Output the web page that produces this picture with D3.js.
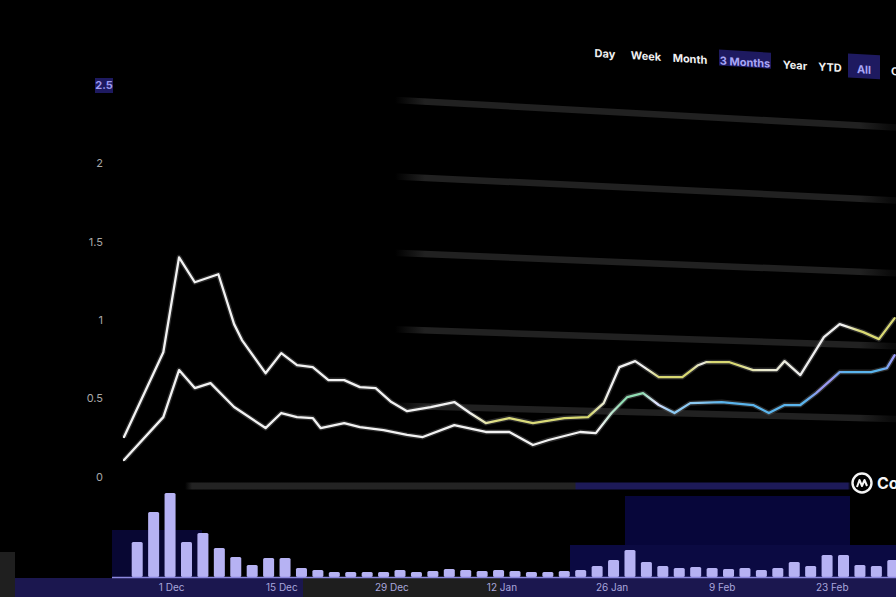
<!DOCTYPE html>
<html><head><meta charset="utf-8">
<script src="https://cdn.jsdelivr.net/npm/d3@7"></script>
<style>
html,body{margin:0;padding:0;background:#000;}
svg{display:block;font-family:Inter,"Noto Sans",sans-serif;}
</style></head>
<body>
<svg id="chart" width="896" height="597"></svg>
<script>
// ---- data ----
const startDate = "2023-11-25";
const upperDays = [0,5,7,9,12,14,15,18,20,22,24,26,28,30,32,34,36,39,42,44,46,49,52,56,59,61,63,65,68,71,73,74,77,80,83,84,86,89,91,94,96,98];
const upperValues = [0.255,0.796,1.401,1.242,1.293,0.975,0.873,0.662,0.790,0.713,0.701,0.618,0.618,0.573,0.567,0.478,0.420,0.446,0.478,0.408,0.344,0.376,0.344,0.376,0.382,0.471,0.701,0.739,0.637,0.637,0.713,0.732,0.732,0.682,0.682,0.739,0.650,0.892,0.975,0.924,0.879,1.013];
const lowerDays = [0,5,7,9,11,14,18,20,22,24,25,28,30,33,36,38,42,46,49,52,54,58,60,62,64,66,68,70,72,76,80,82,84,86,88,91,95,97,98];
const lowerValues = [0.108,0.382,0.682,0.567,0.599,0.446,0.312,0.408,0.382,0.376,0.312,0.344,0.318,0.299,0.268,0.255,0.331,0.287,0.287,0.204,0.236,0.287,0.280,0.408,0.510,0.535,0.459,0.408,0.471,0.478,0.459,0.408,0.459,0.459,0.535,0.669,0.669,0.694,0.777];
const volumeValues = [35,65,84,35,44,29,20,12,19,19,9,7,5,5,5,5,7,5,6,8,7,6,7,6,5,5,6,7,11,17,27,15,11,9,10,9,8,9,7,9,15,11,22,22,12,11,17];
const yTicks = [0,0.5,1,1.5,2,2.5];
const yTickLabels = ["0","0.5","1","1.5","2","2.5"];
const xTickDates = ["2023-12-01","2023-12-15","2023-12-29","2024-01-12","2024-01-26","2024-02-09","2024-02-23"];
const rangeButtons = ["Day","Week","Month","3 Months","Year","YTD","All","Custom"];
const activeButtons = ["3 Months","All"];

// ---- layout ----
const svg = d3.select("#chart");
const W = 896, H = 597;
const parse = d3.utcParse("%Y-%m-%d");
const t0 = parse(startDate);
const x = d3.scaleUtc().domain([t0, d3.utcHour.offset(t0, 98.2*24)]).range([124, 896]);
const y = d3.scaleLinear().domain([0, 2.5]).range([477, 85]);
const xb = d3.scaleBand().domain(d3.range(volumeValues.length)).range([129, 901]).paddingInner(0.33).paddingOuter(0.165);
const yv = d3.scaleLinear().domain([0, 100]).range([577, 477]);

svg.append("rect").attr("width", W).attr("height", H).attr("fill", "#000");

const defs = svg.append("defs");
function grad(id, stops){
  const g = defs.append("linearGradient").attr("id", id).attr("gradientUnits","userSpaceOnUse")
    .attr("x1",0).attr("x2",W).attr("y1",0).attr("y2",0);
  stops.forEach(s => g.append("stop").attr("offset", s[0]/W).attr("stop-color", s[1]).attr("stop-opacity", s[2]==null?1:s[2]));
}
grad("gridFade", [[0,"#212121",0],[395,"#212121",0],[425,"#212121",1],[860,"#212121",1],[892,"#212121",0.3]]);
grad("zeroGrad", [[0,"#232323",0],[185,"#232323",0],[192,"#232323",1],[575,"#232323",1],[576,"#1d1a58",1],[848,"#1d1a58",1],[852,"#000",0]]);
grad("upperGrad", [[124,"#f2f2f2"],[470,"#f2f2f2"],[495,"#dcdc80"],[590,"#d6d870"],[608,"#f0f0f0"],[645,"#f0f0f0"],[660,"#d8d872"],[690,"#d8d872"],[702,"#ececec"],[712,"#d8d872"],[735,"#d8d872"],[760,"#e8e8c8"],[800,"#ececec"],[845,"#f0f0f0"],[860,"#d8d872"],[896,"#d8d872"]]);
grad("lowerGrad", [[124,"#f2f2f2"],[600,"#f2f2f2"],[622,"#8fdcb2"],[642,"#8fdcb2"],[656,"#e2e2ff"],[672,"#8cc9f2"],[700,"#8cc9f2"],[722,"#5ab4ec"],[805,"#5ab4ec"],[820,"#9a98f0"],[832,"#9a98f0"],[845,"#5ab4ec"],[880,"#5ab4ec"],[893,"#9a9af8"]]);

// background blocks (navy panels behind volume and axis)
const bg = svg.append("g");
bg.append("rect").attr("x",0).attr("y",578).attr("width",W).attr("height",19).attr("fill","#1b174f");
bg.append("rect").attr("x",303).attr("y",578).attr("width",197).attr("height",19).attr("fill","#1e1e1e");
bg.append("rect").attr("x",0).attr("y",552).attr("width",15).attr("height",45).attr("fill","#1f1f1f");
bg.append("rect").attr("x",625).attr("y",496).attr("width",225).attr("height",82).attr("fill","#07063a");
bg.append("rect").attr("x",570).attr("y",545).attr("width",326).attr("height",33).attr("fill","#0b0a42");
bg.append("rect").attr("x",112).attr("y",530).attr("width",90).attr("height",48).attr("fill","#080733");

// gridlines: each one tilts down to the right (as photographed)
const gridDrop = v => 15 + 11 * v;
svg.append("g").selectAll("line.grid").data(yTicks.filter(d => d > 0)).join("line")
  .attr("class","grid")
  .attr("x1", x.range()[0]).attr("x2", x.range()[1])
  .attr("y1", d => y(d)).attr("y2", d => y(d) + gridDrop(d))
  .attr("stroke", "url(#gridFade)").attr("stroke-width", 6.5);
// zero separator
svg.append("line").attr("x1",0).attr("x2",W).attr("y1",y(0)+9).attr("y2",y(0)+9)
  .attr("stroke","url(#zeroGrad)").attr("stroke-width",7);

// y-axis labels
const yl = svg.append("g");
yTicks.forEach((t,i) => {
  const top = i === yTicks.length - 1;
  if (top) {
    yl.append("rect").attr("x",95).attr("y",y(t)-7).attr("width",18).attr("height",15).attr("fill","#1e1a60");
  }
  yl.append("text").attr("x", top ? 104 : 103).attr("y", y(t)).attr("dy","0.35em")
    .attr("text-anchor", top ? "middle" : "end")
    .attr("font-size", 11).attr("font-weight", top ? 700 : 400)
    .attr("fill", top ? "#9c9af0" : "#a8a8a8").text(yTickLabels[i]);
});

// volume bars
svg.append("g").selectAll("rect").data(volumeValues).join("rect")
  .attr("x", (d,i) => xb(i)).attr("width", xb.bandwidth())
  .attr("y", d => yv(d)).attr("height", d => yv(0) - yv(d))
  .attr("rx", 1.5)
  .attr("fill", "#b6b2f3");
svg.append("line").attr("x1",112).attr("x2",W).attr("y1",yv(0)+0.5).attr("y2",yv(0)+0.5)
  .attr("stroke","#8c88e0").attr("stroke-width",1.5);

// lines
const line = d3.line().x(d => x(d3.utcDay.offset(t0, d[0]))).y(d => y(d[1]));
const upper = upperDays.map((d,i) => [d, upperValues[i]]);
const lower = lowerDays.map((d,i) => [d, lowerValues[i]]);
[[lower,"url(#lowerGrad)"],[upper,"url(#upperGrad)"]].forEach(([data, col]) => {
  svg.append("path").datum(data).attr("d", line).attr("fill","none")
    .attr("stroke","#5a5a5a").attr("stroke-opacity",0.45).attr("stroke-width",5).attr("stroke-linejoin","round");
  svg.append("path").datum(data).attr("d", line).attr("fill","none")
    .attr("stroke", col).attr("stroke-width",2.3).attr("stroke-linejoin","round").attr("stroke-linecap","round");
});

// x axis
const xAxis = d3.axisBottom(x).tickValues(xTickDates.map(parse)).tickFormat(d3.utcFormat("%-d %b")).tickSize(0).tickPadding(0);
const xg = svg.append("g").attr("transform", "translate(0,584)").call(xAxis);
xg.select(".domain").remove();
xg.selectAll("text").attr("font-size",10).attr("fill","#a9a6dc").attr("font-family","Inter,'Noto Sans',sans-serif");

// range buttons (slightly tilted like the gridlines)
const btnX = {"Day":605,"Week":646,"Month":690,"3 Months":745,"Year":795,"YTD":830,"All":864,"Custom":912};
const bg2 = svg.append("g").attr("transform","translate(596,0) skewY(3.5) translate(-596,0)");
rangeButtons.forEach(b => {
  const active = activeButtons.includes(b);
  const cx = btnX[b];
  if (active) {
    const w = b === "All" ? 32 : 52;
    bg2.append("rect").attr("x", cx - w/2).attr("y", b === "All" ? 38 : 42).attr("width", w).attr("height", b === "All" ? 24 : 16).attr("fill","#1e1a60");
  }
  bg2.append("text").attr("x", cx).attr("y", 57).attr("text-anchor","middle")
    .attr("font-size", 11).attr("font-weight", 700)
    .attr("fill", active ? "#a9a6f6" : "#f0f0f0").text(b);
});

// watermark logo
const logo = svg.append("g").attr("transform","translate(862,483)");
logo.append("circle").attr("r",9.5).attr("fill","none").attr("stroke","#f4f4f4").attr("stroke-width",2.4);
logo.append("path").attr("d","M-5,4 L-2.5,-3 L0,3 L2.5,-3 L5,3").attr("fill","none").attr("stroke","#f4f4f4").attr("stroke-width",2).attr("stroke-linejoin","round");
svg.append("text").attr("x",877).attr("y",489).attr("font-size",16).attr("font-weight",700).attr("fill","#f4f4f4").text("CoinMarketCap");
</script>
</body></html>
